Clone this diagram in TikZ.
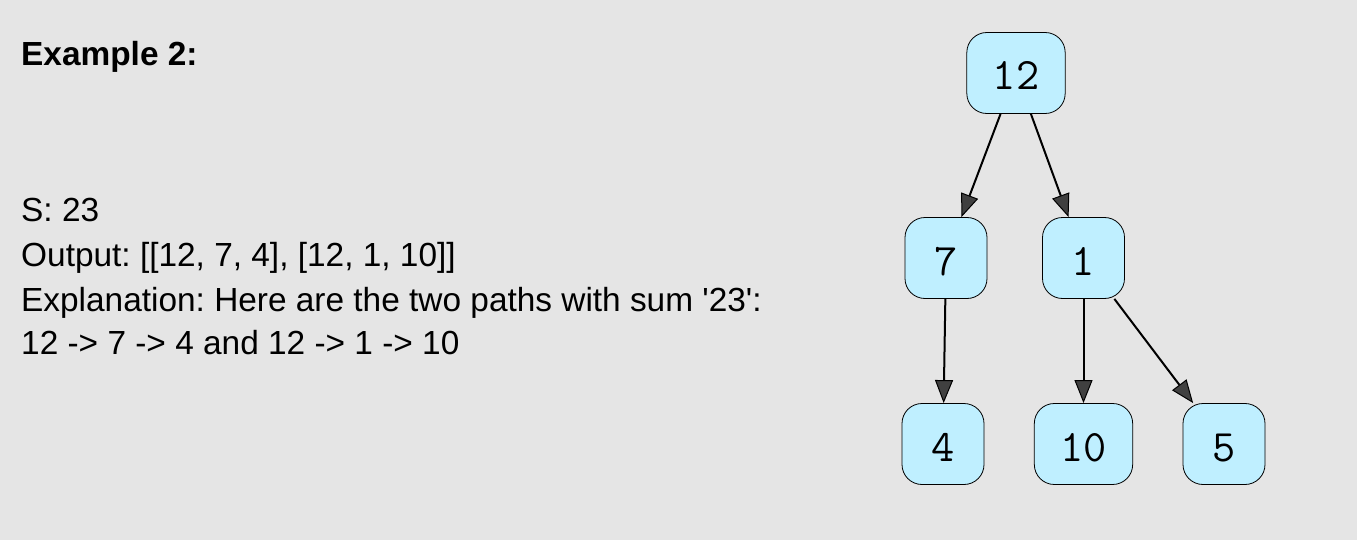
\documentclass[tikz,border=0pt]{standalone}
\usepackage{fontspec}
\newfontfamily\plainfont{Liberation Sans}
\usetikzlibrary{arrows.meta}
\definecolor{bggray}{HTML}{E5E5E5}
\definecolor{nodeblue}{HTML}{BFEFFF}
\definecolor{headgray}{HTML}{404040}
\tikzset{
  tnode/.style={draw=black, line width=0.8pt, fill=nodeblue, rounded corners=20pt,
    minimum width=82pt, minimum height=81pt, inner xsep=26pt,
    font=\ttfamily\fontsize{45}{45}\selectfont, text height=34pt, text depth=0pt},
  tedge/.style={line width=2pt, -{Triangle[length=23pt,width=18pt,fill=headgray,line width=1pt]}},
  txt/.style={anchor=base west, inner sep=0pt, font=\plainfont\fontsize{33.4}{40}\selectfont}
}
\frenchspacing
\begin{document}
\begin{tikzpicture}[x=1pt,y=-1pt]

    \fill[bggray] (0,0) rectangle (1357,540);
    \useasboundingbox (0,0) rectangle (1357,540);

    \node[txt, font=\plainfont\bfseries\fontsize{33.4}{40}\selectfont] (title) at (21,66) {Example 2:};
    \node[txt] (sum) at (21,222) {S: 23};
    \node[txt] (out) at (21,266.5) {Output: [[12, 7, 4], [12, 1, 10]]};
    \node[txt] (expl) at (21,311) {Explanation: Here are the two paths with sum '23':};
    \node[txt] (paths) at (21,354) {12 -> 7 -> 4 and 12 -> 1 -> 10};

    \node[tnode] (n12) at (1016,73) {12};
    \node[tnode] (n7) at (946,258) {7};
    \node[tnode] (n1) at (1083.5,258) {1};
    \node[tnode] (n4) at (943,444) {4};
    \node[tnode] (n10) at (1083.5,444) {10};
    \node[tnode] (n5) at (1224,444) {5};

    \draw[tedge] (n12) -- (n7);
    \draw[tedge] (n12) -- (n1);
    \draw[tedge] (n7) -- (n4);
    \draw[tedge] (n1) -- (n10);
    \draw[tedge] (n1) -- (n5);

\end{tikzpicture}
\end{document}
